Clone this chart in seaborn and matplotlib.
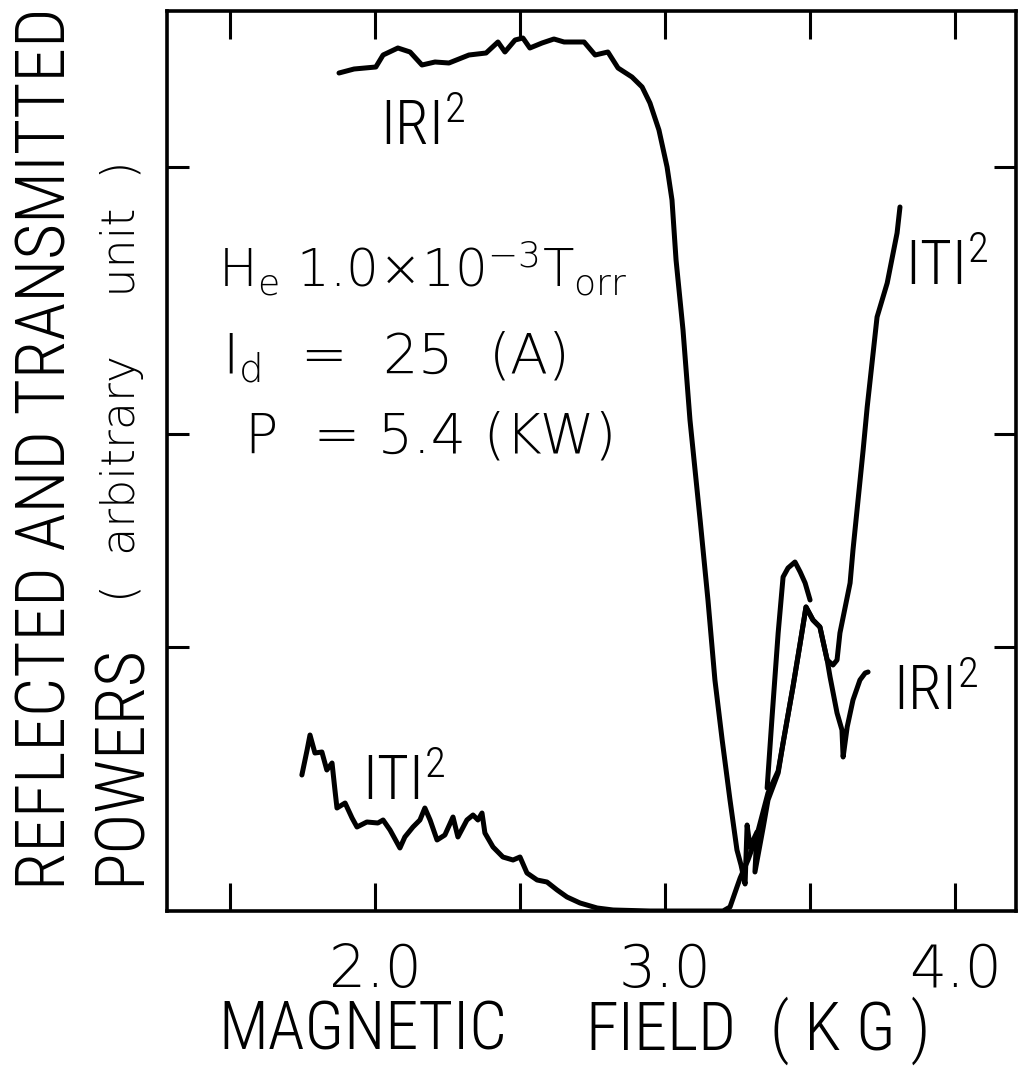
import matplotlib
matplotlib.use("Agg")
import matplotlib.pyplot as plt
import seaborn as sns
import pandas as pd
from matplotlib import font_manager

# ==============================================================================
# --- DATA (magnetic field in kG, power in arbitrary units) ---
# ==============================================================================
# |R|^2 reflected power
r_field = [1.876, 1.928, 2.003, 2.028, 2.079, 2.121, 2.162, 2.207, 2.255, 2.324,
           2.383, 2.424, 2.448, 2.483, 2.510, 2.534, 2.576, 2.617, 2.652, 2.721,
           2.759, 2.803, 2.838, 2.886, 2.921, 2.948, 2.979, 3.007, 3.024, 3.038,
           3.062, 3.086, 3.121, 3.148, 3.172, 3.197, 3.224, 3.248, 3.262, 3.276,
           3.283, 3.293, 3.317, 3.310, 3.338, 3.355, 3.390, 3.407, 3.441, 3.466,
           3.486, 3.510, 3.534, 3.559, 3.569, 3.593, 3.610, 3.614, 3.628, 3.648,
           3.672, 3.690, 3.700]
r_power = [8.38, 8.42, 8.44, 8.56, 8.63, 8.59, 8.46, 8.49, 8.48, 8.56,
           8.58, 8.69, 8.59, 8.71, 8.73, 8.63, 8.68, 8.72, 8.69, 8.69,
           8.56, 8.59, 8.43, 8.34, 8.24, 8.08, 7.81, 7.44, 7.11, 6.51,
           5.81, 4.91, 3.91, 3.11, 2.31, 1.71, 1.11, 0.61, 0.46, 0.27,
           0.86, 0.64, 0.79, 0.39, 0.83, 1.11, 1.38, 1.68, 2.24, 2.68,
           3.04, 2.91, 2.84, 2.51, 2.34, 1.98, 1.81, 1.54, 1.84, 2.11,
           2.31, 2.38, 2.39]

# |T|^2 transmitted power
t_field = [1.748, 1.766, 1.776, 1.793, 1.817, 1.834, 1.852, 1.862, 1.869, 1.897,
           1.921, 1.938, 1.972, 2.010, 2.028, 2.052, 2.086, 2.103, 2.131, 2.155,
           2.172, 2.190, 2.214, 2.241, 2.269, 2.286, 2.317, 2.338, 2.355, 2.369,
           2.379, 2.407, 2.441, 2.476, 2.500, 2.524, 2.559, 2.593, 2.628, 2.662,
           2.707, 2.766, 2.821, 2.948, 3.121, 3.200, 3.224, 3.248, 3.259, 3.286,
           3.317, 3.355, 3.390, 3.407, 3.441, 3.466, 3.486, 3.510, 3.534, 3.559,
           3.579, 3.593, 3.603, 3.638, 3.648, 3.683, 3.697, 3.731, 3.766, 3.800,
           3.810]
t_power = [1.36, 1.61, 1.76, 1.58, 1.59, 1.41, 1.48, 1.21, 1.03, 1.08,
           0.93, 0.84, 0.89, 0.88, 0.91, 0.81, 0.63, 0.74, 0.84, 0.91,
           1.03, 0.91, 0.71, 0.76, 0.94, 0.74, 0.91, 0.96, 0.91, 0.98,
           0.78, 0.64, 0.54, 0.51, 0.54, 0.38, 0.31, 0.29, 0.21, 0.14,
           0.08, 0.03, 0.01, 0.00, 0.00, 0.00, 0.04, 0.24, 0.33, 0.51,
           0.76, 1.18, 1.40, 1.68, 2.24, 2.68, 3.04, 2.91, 2.84, 2.51,
           2.46, 2.51, 2.78, 3.28, 3.61, 4.61, 5.04, 5.94, 6.28, 6.78,
           7.04]

# second short |R|^2 sweep near the resonance
r2_field = [3.352, 3.369, 3.390, 3.407, 3.424, 3.448, 3.466, 3.483, 3.500]
r2_power = [1.23, 1.94, 2.78, 3.34, 3.43, 3.49, 3.39, 3.28, 3.11]

x_major = [2.0, 3.0, 4.0]
x_labels = ["2.0", "3.0", "4.0"]
x_minor = [1.5, 2.5, 3.5]
y_ticks = [2.64, 4.77, 7.44]

df = pd.concat([
    pd.DataFrame({"field": r_field, "power": r_power, "trace": "R"}),
    pd.DataFrame({"field": t_field, "power": t_power, "trace": "T"}),
    pd.DataFrame({"field": r2_field, "power": r2_power, "trace": "R2"}),
], ignore_index=True)

# ==============================================================================
# --- STYLE ---
# ==============================================================================
sns.set_style("white")
names = {f.name for f in font_manager.fontManager.ttflist}
narrow = next((n for n in ["Roboto Condensed", "Liberation Sans Narrow"] if n in names), "DejaVu Sans")
k = 1.0 if narrow != "DejaVu Sans" else 0.8   # shrink wide fallback font
wide = ["DejaVu Sans"]
plt.rcParams["font.family"] = [narrow, "DejaVu Sans"]
plt.rcParams["font.weight"] = "light"
plt.rcParams["mathtext.default"] = "regular"
plt.rcParams["text.color"] = "black"
plt.rcParams["xtick.color"] = "black"
plt.rcParams["ytick.color"] = "black"

# ==============================================================================
# --- FIGURE ---
# ==============================================================================
W, H = 1024, 1066
fig = plt.figure(figsize=(W / 100, H / 100), dpi=100)
ax = fig.add_axes([167 / W, 155 / H, 849 / W, 900 / H])

sns.lineplot(data=df, x="field", y="power", units="trace", estimator=None,
             sort=False, color="black", lw=3.6, ax=ax)

ax.set_xlim(1.283, 4.21)
ax.set_ylim(0, 9.0)
ax.set_xticks(x_major)
ax.set_xticklabels(x_labels, family=wide, fontsize=42)
ax.set_xticks(x_minor, minor=True)
ax.set_yticks(y_ticks)
ax.set_yticklabels([])
ax.tick_params(which="both", direction="in", bottom=True, left=True, top=True, right=True,
               length=20, width=2.2, colors="black", pad=22)
ax.tick_params(axis="y", length=16)
ax.set_xlabel("")
ax.set_ylabel("")
for s in ax.spines.values():
    s.set_linewidth(2.6)
    s.set_color("black")

# curve labels
lab = 44 * k
ax.text(2.017, 7.66, "IRI$^{2}$", fontsize=lab, ha="left", va="baseline")
ax.text(3.828, 6.26, "ITI$^{2}$", fontsize=lab, ha="left", va="baseline")
ax.text(3.786, 2.01, "IRI$^{2}$", fontsize=lab, ha="left", va="baseline")
ax.text(1.955, 1.11, "ITI$^{2}$", fontsize=lab, ha="left", va="baseline")

# experimental conditions
ax.text(1.459, 6.24, "H$_{e}$ 1.0×10$^{-3}$T$_{orr}$", family=wide, fontsize=37,
        ha="left", va="baseline")
ax.text(1.472, 5.39, "I$_{d}$  =  25  (A)", family=wide, fontsize=40,
        ha="left", va="baseline")
ax.text(1.552, 4.59, "P  = 5.4 (KW)", family=wide, fontsize=40,
        ha="left", va="baseline")

# axis titles
xl = 48 * k
fig.text(218 / W, 1 - 1050 / H, "MAGNETIC", fontsize=xl, ha="left", va="baseline")
fig.text(585 / W, 1 - 1050 / H, "FIELD", fontsize=xl, ha="left", va="baseline")
fig.text(770 / W, 1 - 1050 / H, "( K G )", fontsize=xl, ha="left", va="baseline")
fig.text(65 / W, 1 - 890 / H, "REFLECTED AND TRANSMITTED", fontsize=50 * k,
         rotation=90, rotation_mode="anchor", ha="left", va="baseline")
fig.text(140 / W, 1 - 885 / H, "POWERS", fontsize=50 * k,
         rotation=90, rotation_mode="anchor", ha="left", va="baseline")
fig.text(135 / W, 1 - 602 / H, "(  arbitrary    unit  )", family=wide, fontsize=33,
         rotation=90, rotation_mode="anchor", ha="left", va="baseline")

fig.savefig("out.png", dpi=100)
